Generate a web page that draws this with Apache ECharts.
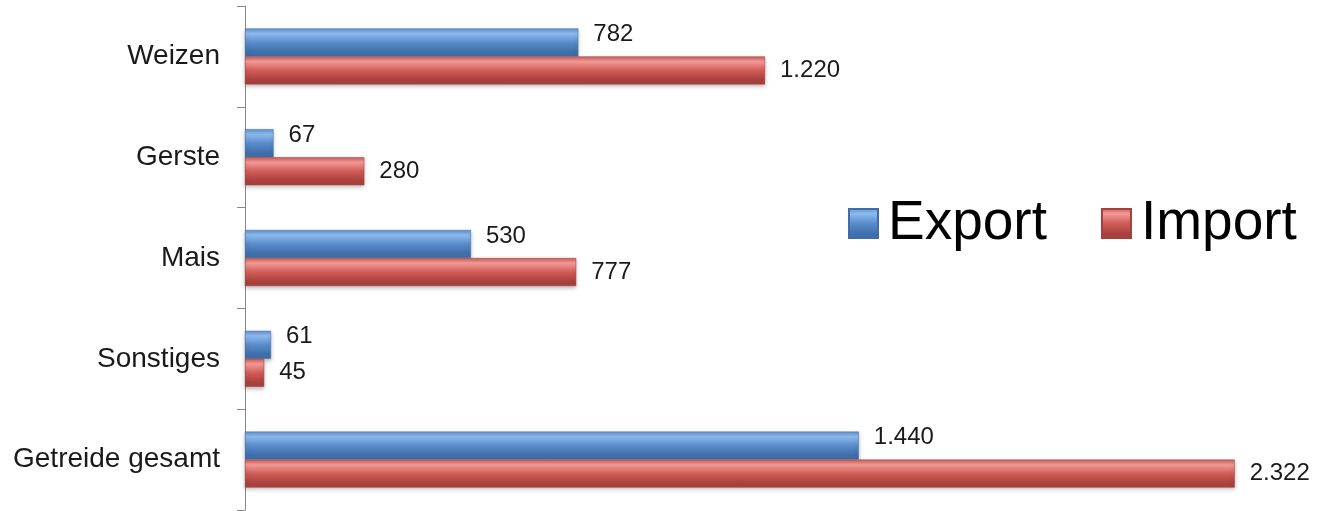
<!DOCTYPE html>
<html>
<head>
<meta charset="utf-8">
<script src="https://cdn.jsdelivr.net/npm/echarts@6/dist/echarts.min.js"></script>
<style>
html,body{margin:0;padding:0;background:#fff;}
#chart{width:1317px;height:511px;}
</style>
</head>
<body>
<div id="chart"></div>
<script>
const categories = ['Weizen', 'Gerste', 'Mais', 'Sonstiges', 'Getreide gesamt'];
const exportValues = [782, 67, 530, 61, 1440];
const importValues = [1220, 280, 777, 45, 2322];
const seriesNames = ['Export', 'Import'];

function fmt(v) {
  return String(v).replace(/\B(?=(\d{3})+(?!\d))/g, '.');
}
function grad(top, hi, mid, bot) {
  return new echarts.graphic.LinearGradient(0, 0, 0, 1, [
    { offset: 0, color: top },
    { offset: 0.18, color: hi },
    { offset: 0.5, color: mid },
    { offset: 0.85, color: bot },
    { offset: 1, color: bot }
  ]);
}
const blue = grad('#5f8fcf', '#8dbbee', '#5a8ccb', '#3f6ea9');
const red = grad('#c45b58', '#f59a96', '#d05c58', '#a8403d');

const chart = echarts.init(document.getElementById('chart'));
const labelStyle = {
  show: true,
  position: 'right',
  distance: 15,
  fontFamily: 'Liberation Sans, Arial, sans-serif',
  fontSize: 24,
  color: '#1a1a1a',
  formatter: p => fmt(p.value)
};
chart.setOption({
  animation: false,
  backgroundColor: '#ffffff',
  grid: { left: 245, right: 49, top: 6, bottom: 1, containLabel: false },
  legend: {
    data: seriesNames,
    left: 843,
    top: 191,
    icon: 'rect',
    itemWidth: 29,
    itemHeight: 29,
    itemGap: 54,
    textStyle: {
      fontFamily: 'Liberation Sans, Arial, sans-serif',
      fontSize: 55,
      color: '#000',
      padding: [0, 0, 0, 5]
    }
  },
  xAxis: {
    type: 'value',
    min: 0,
    max: 2400,
    show: false,
    splitLine: { show: false }
  },
  yAxis: {
    type: 'category',
    data: categories,
    inverse: true,
    axisLine: { show: true, lineStyle: { color: '#888', width: 1 } },
    axisTick: { show: true, length: 8, lineStyle: { color: '#888' } },
    axisLabel: {
      margin: 25,
      fontFamily: 'Liberation Sans, Arial, sans-serif',
      fontSize: 28,
      color: '#1a1a1a'
    }
  },
  series: [
    {
      name: seriesNames[0],
      type: 'bar',
      data: exportValues,
      barWidth: 28,
      barGap: '0%',
      itemStyle: {
        color: blue,
        borderColor: '#3e6ea8',
        borderWidth: 0.5,
        shadowBlur: 4,
        shadowColor: 'rgba(0,0,0,0.25)',
        shadowOffsetY: 2
      },
      label: Object.assign({}, labelStyle, { offset: [0, -8] })
    },
    {
      name: seriesNames[1],
      type: 'bar',
      data: importValues,
      barWidth: 28,
      barGap: '0%',
      itemStyle: {
        color: red,
        borderColor: '#a3403d',
        borderWidth: 0.5,
        shadowBlur: 4,
        shadowColor: 'rgba(0,0,0,0.25)',
        shadowOffsetY: 2
      },
      label: Object.assign({}, labelStyle)
    }
  ]
});
</script>
</body>
</html>
